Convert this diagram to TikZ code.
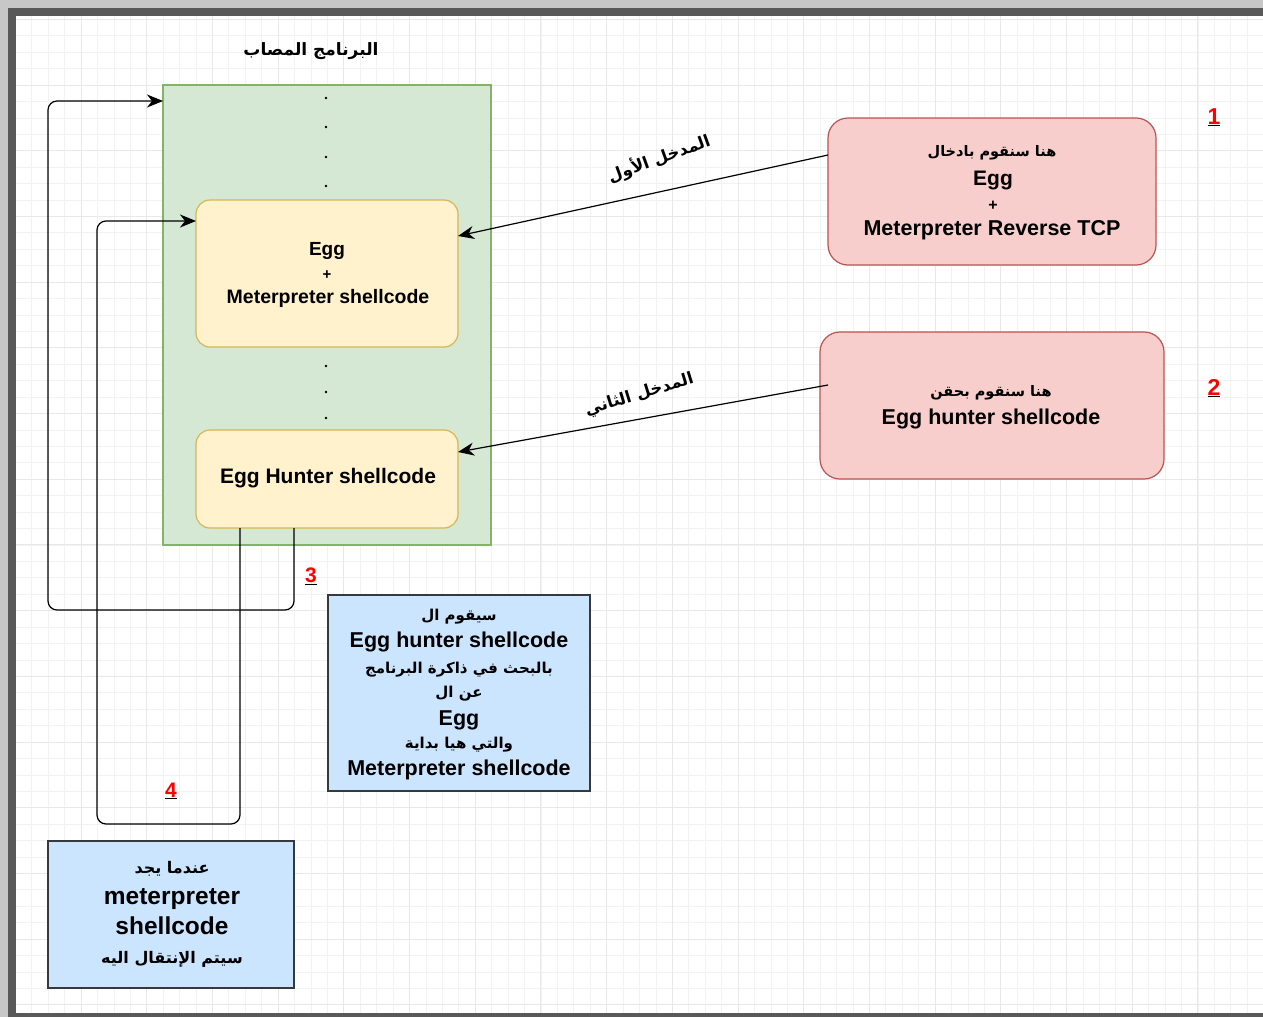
\documentclass[tikz,border=0pt]{standalone}
\usepackage{fontspec}
\setmainfont{Liberation Sans}
\newfontfamily\ar[Script=Arabic]{DejaVu Sans}
\TeXXeTstate=1
\usetikzlibrary{arrows.meta}
\definecolor{gfill}{HTML}{D5E8D4}\definecolor{gdraw}{HTML}{82B366}
\definecolor{yfill}{HTML}{FFF2CC}\definecolor{ydraw}{HTML}{D6B656}
\definecolor{rfill}{HTML}{F8CECC}\definecolor{rdraw}{HTML}{B85450}
\definecolor{bfill}{HTML}{CCE5FF}\definecolor{bdraw}{HTML}{36393D}
\definecolor{numred}{HTML}{FF0000}
\newcommand{\fs}[1]{\fontsize{#1}{#1}\selectfont}
\newcommand{\AR}[2]{{\fs{#1}\ar\bfseries #2}}
\newcommand{\LT}[2]{{\fs{#1}\bfseries #2}}
\begin{document}
\begin{tikzpicture}[x=1pt,y=-1pt,
  box/.style={draw,line width=1.2pt,inner sep=0pt,outer sep=0pt,anchor=north west},
  greenbox/.style={box,fill=gfill,draw=gdraw},
  yellowbox/.style={box,fill=yfill,draw=ydraw,rounded corners=14pt},
  redbox/.style={box,fill=rfill,draw=rdraw,rounded corners=20pt},
  bluebox/.style={box,fill=bfill,draw=bdraw},
  txt/.style={inner sep=0pt,anchor=mid,align=center,yshift=-4.5pt},
  dotn/.style={circle,fill=black,inner sep=0pt,minimum size=2.6pt},
  conn/.style={line width=1.2pt,-{Stealth[length=16pt,width=13pt,inset=5pt]}},
  loop/.style={conn,rounded corners=9pt},
  num/.style={inner sep=0pt,anchor=mid,yshift=-4.5pt},
  minorgrid/.style={draw=black!5,line width=0.7pt},
  majorgrid/.style={draw=black!9,line width=0.9pt}]
\useasboundingbox (0,0) rectangle (1263,1017);
% frame
\fill[black!22] (0,0) rectangle (1263,1017);
\fill[black!65] (8,8) rectangle (1263,1017);
\fill[white] (16,16) rectangle (1263,1013);
\begin{scope}
\clip (16,16) rectangle (1263,1013);
\foreach \i in {0,...,76} \draw[minorgrid] ({15.3+\i*16.425},16) -- ({15.3+\i*16.425},1013);
\foreach \i in {0,...,61} \draw[minorgrid] (16,{19.3+\i*16.425}) -- (1263,{19.3+\i*16.425});
\foreach \i in {0,...,19} \draw[majorgrid] ({15.3+\i*65.7},16) -- ({15.3+\i*65.7},1013);
\foreach \i in {0,...,15} \draw[majorgrid] (16,{19.3+\i*65.7}) -- (1263,{19.3+\i*65.7});
\end{scope}

% title
\node[txt] (title) at (311,48) {\AR{17}{\beginR البرنامج المصاب\endR}};

% green program box
\node[greenbox,minimum width=328pt,minimum height=460pt] (g) at (163,85) {};
\foreach \yy/\nm in {98/d1,127/d2,157/d3,186/d4,366/d5,392/d6,418/d7}
  \node[dotn] (\nm) at (326,\yy) {};

% yellow boxes
\node[yellowbox,minimum width=262pt,minimum height=147pt] (y1) at (196,200) {};
\node[txt] (y1a) at (327,248) {\LT{19}{Egg}};
\node[txt] (y1b) at (327,272) {\LT{15}{+}};
\node[txt] (y1c) at (328,296) {\LT{19.5}{Meterpreter shellcode}};

\node[yellowbox,minimum width=262pt,minimum height=98pt] (y2) at (196,430) {};
\node[txt] (y2a) at (328,476) {\LT{21}{Egg Hunter shellcode}};

% red boxes
\node[redbox,minimum width=328pt,minimum height=147pt] (r1) at (828,118) {};
\node[txt] (r1a) at (992,149) {\AR{14.5}{\beginR هنا سنقوم بادخال\endR}};
\node[txt] (r1b) at (993,178) {\LT{21}{Egg}};
\node[txt] (r1c) at (993,203) {\LT{16}{+}};
\node[txt] (r1d) at (992,228) {\LT{21.5}{Meterpreter Reverse TCP}};

\node[redbox,minimum width=344pt,minimum height=147pt] (r2) at (820,332) {};
\node[txt] (r2a) at (991,389) {\AR{14.5}{\beginR هنا سنقوم بحقن\endR}};
\node[txt] (r2b) at (991,417) {\LT{21.5}{Egg hunter shellcode}};

% numbers
\node[num] (n1) at (1214,117) {\LT{23}{\color{black}\underline{\textcolor{numred}{1}}}};
\node[num] (n2) at (1214,388) {\LT{23}{\color{black}\underline{\textcolor{numred}{2}}}};
\node[num] (n3) at (311,575) {\LT{21}{\color{black}\underline{\textcolor{numred}{3}}}};
\node[num] (n4) at (171,790) {\LT{21}{\color{black}\underline{\textcolor{numred}{4}}}};

% blue boxes
\node[bluebox,minimum width=262pt,minimum height=196pt] (b3) at (328,595) {};
\node[txt] (b3a) at (459,613) {\AR{15}{\beginR سيقوم ال\endR}};
\node[txt] (b3b) at (459,640) {\LT{21.5}{Egg hunter shellcode}};
\node[txt] (b3c) at (459,666) {\AR{15}{\beginR بالبحث في ذاكرة البرنامج\endR}};
\node[txt] (b3d) at (459,690) {\AR{15}{\beginR عن ال\endR}};
\node[txt] (b3e) at (459,718) {\LT{21.5}{Egg}};
\node[txt] (b3f) at (459,741) {\AR{15}{\beginR والتي هيا بداية\endR}};
\node[txt] (b3g) at (459,768) {\LT{21.5}{Meterpreter shellcode}};

\node[bluebox,minimum width=246pt,minimum height=147pt] (b4) at (48,841) {};
\node[txt] (b4a) at (172,866) {\AR{16}{\beginR عندما يجد\endR}};
\node[txt] (b4b) at (172,897) {\LT{24.5}{meterpreter}};
\node[txt] (b4c) at (172,927) {\LT{24.5}{shellcode}};
\node[txt] (b4d) at (172,956) {\AR{16}{\beginR سيتم الإنتقال اليه\endR}};

% input arrows
\draw[conn] ([yshift=36.5pt]r1.west) -- ([yshift=37.5pt]y1.east);
\node[txt,rotate=20] (l1) at (660,157) {\AR{16.5}{\beginR المدخل الأول\endR}};
\draw[conn] ([xshift=8pt,yshift=20.5pt]r2.west) -- ([yshift=27pt]y2.east);
\node[txt,rotate=17] (l2) at (640,392) {\AR{16.5}{\beginR المدخل الثاني\endR}};

% loop connectors
\draw[loop] ([xshift=-33pt]y2.south) -- ++(0,82) -- ++(-246,0) |- ([yshift=-16pt]g.north west);
\draw[loop] ([xshift=-87pt]y2.south) -- ++(0,296) -- ++(-143,0) |- ([yshift=-21pt]y1.north west);
\end{tikzpicture}
\end{document}
